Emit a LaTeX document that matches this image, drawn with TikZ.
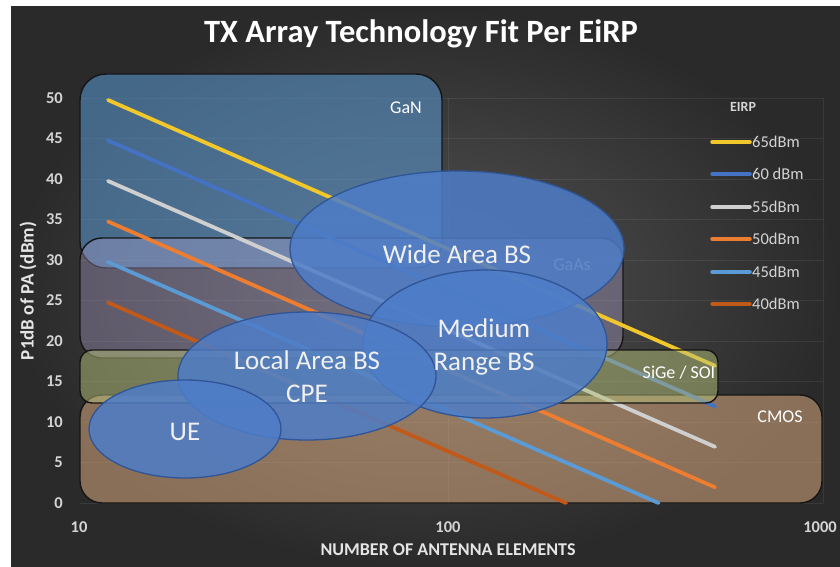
\documentclass[tikz,border=0pt]{standalone}
\usepackage{fontspec}
\setmainfont{Carlito}
\usetikzlibrary{shapes.geometric}
\definecolor{bgin}{HTML}{545454}
\definecolor{bgout}{HTML}{2A2A2A}
\definecolor{c65}{HTML}{F2C72C}
\definecolor{c60}{HTML}{4472C4}
\definecolor{c55}{HTML}{CFCFCF}
\definecolor{c50}{HTML}{ED7D31}
\definecolor{c45}{HTML}{5B9BD5}
\definecolor{c40}{HTML}{C0591A}
\definecolor{gancol}{HTML}{5B9BD5}
\definecolor{gaascol}{HTML}{B4A7D6}
\definecolor{sigecol}{HTML}{B8C27A}
\definecolor{cmoscol}{HTML}{D9A97F}
\definecolor{efill}{HTML}{4E7DC8}
\definecolor{eline}{HTML}{2F5597}
\definecolor{boxline}{HTML}{151515}
\definecolor{ticktext}{HTML}{D4D4D4}
\begin{document}
\begin{tikzpicture}[x=1pt,y=-1pt,
  techbox/.style={draw=boxline, line width=1.4pt, rounded corners=22pt, inner sep=0pt},
  dataline/.style={line width=3.8pt, line cap=round},
  legline/.style={line width=3.5pt, line cap=round},
  blob/.style={ellipse, draw=eline, line width=1.3pt, fill=efill, fill opacity=0.85, text opacity=1, text=white!94!black, align=center, inner sep=0pt, font=\fontsize{27}{33}\selectfont},
  blobtext/.style={text=white!94!black, align=center, inner sep=0pt, font=\fontsize{27}{33}\selectfont},
  ticklab/.style={text=ticktext, font=\fontsize{16.5}{18}\selectfont\bfseries, inner sep=0pt},
  boxlab/.style={text=white, font=\fontsize{18}{20}\selectfont, inner sep=0pt},
  legtext/.style={text=ticktext, font=\fontsize{16.5}{18}\selectfont, inner sep=0pt, anchor=west},
  axtitle/.style={text=white!90!black, font=\fontsize{18}{20}\selectfont\bfseries, inner sep=0pt},
  gridline/.style={white, opacity=0.07, line width=0.8pt}
]
\useasboundingbox (0,0) rectangle (840,567);
\fill[white] (0,0) rectangle (840,567);
\shade[inner color=bgin, outer color=bgout] (11,7) rectangle (840,567);

% grid
\foreach \p in {0,5,...,50}{
  \draw[gridline] (80,{503-8.1*\p}) -- (823,{503-8.1*\p});
}
\draw[gridline] (448,98) -- (448,503);
\draw[gridline] (823,98) -- (823,503);

% title
\node[text=white, font=\fontsize{32.5}{36}\selectfont\bfseries, anchor=base] (title) at (421,43) {TX Array Technology Fit Per EiRP};

% tick labels
\foreach \p in {0,5,...,50}{
  \node[ticklab, anchor=east] (ty\p) at (63,{503-8.1*\p}) {\p};
}
\node[ticklab] (tx10) at (79,527) {10};
\node[ticklab] (tx100) at (448,527) {100};
\node[ticklab] (tx1000) at (820,527) {1000};

\node[axtitle, rotate=90, font=\fontsize{19}{21}\selectfont\bfseries] (ytitle) at (28,291) {P1dB of PA (dBm)};
\node[axtitle] (xtitle) at (448,550) {NUMBER OF ANTENNA ELEMENTS};

% technology boxes
\node[techbox, fill=gancol, fill opacity=0.55, minimum width=362pt, minimum height=194pt, rounded corners=26pt] (gan) at (261,171) {};
\node[techbox, fill=gaascol, fill opacity=0.35, minimum width=543pt, minimum height=120pt] (gaas) at (351.5,298) {};
\node[techbox, fill=cmoscol, fill opacity=0.55, minimum width=742pt, minimum height=108pt] (cmos) at (451,449) {};

% data lines
\foreach \e/\c/\ya/\xb/\yb in {65/c65/100/715/365.8, 60/c60/140.5/715/406.3, 55/c55/181/715/446.8, 50/c50/221.5/715/487.3, 45/c45/262/658.5/503, 40/c40/302.5/566/503}{
  \coordinate (s\e) at (108,\ya);
  \coordinate (e\e) at (\xb,\yb);
  \draw[dataline, \c] (s\e) -- (e\e);
}

\node[techbox, fill=sigecol, fill opacity=0.5, minimum width=638pt, minimum height=53pt, rounded corners=12pt] (sige) at (399,376.5) {};

% box labels
\node[boxlab] (ganlab) at (406,108) {GaN};
\node[boxlab, text=white!90!black] (gaaslab) at (572,265) {GaAs};
\node[boxlab] (sigelab) at (679,373) {SiGe / SOI};
\node[boxlab] (cmoslab) at (780,417) {CMOS};

% legend
\node[boxlab, font=\fontsize{14}{16}\selectfont\bfseries, text=ticktext] (eirp) at (743,107) {EIRP};
\foreach \e/\c/\y/\t in {65/c65/142/65dBm, 60/c60/174/60 dBm, 55/c55/207/55dBm, 50/c50/239/50dBm, 45/c45/272/45dBm, 40/c40/304/40dBm}{
  \coordinate (la\e) at (712,\y);
  \coordinate (lb\e) at (750,\y);
  \draw[legline, \c] (la\e) -- (lb\e);
  \node[legtext] (lt\e) at (752,\y) {\t};
}

% application ellipses
\node[blob, minimum width=334pt, minimum height=156pt] (wide) at (457,249) {};
\node[blob, minimum width=244pt, minimum height=148pt] (medium) at (485,344) {};
\node[blob, minimum width=258pt, minimum height=128pt] (local) at (307,376) {};
\node[blob, minimum width=192pt, minimum height=98pt] (ue) at (185,429) {};
\node[blobtext] (widetext) at (457,254) {Wide Area BS};
\node[blobtext] (mediumtext) at (484,347) {Medium\\Range BS};
\node[blobtext] (localtext) at (307,377) {Local Area BS\\CPE};
\node[blobtext] (uetext) at (185,432) {UE};
\end{tikzpicture}
\end{document}
